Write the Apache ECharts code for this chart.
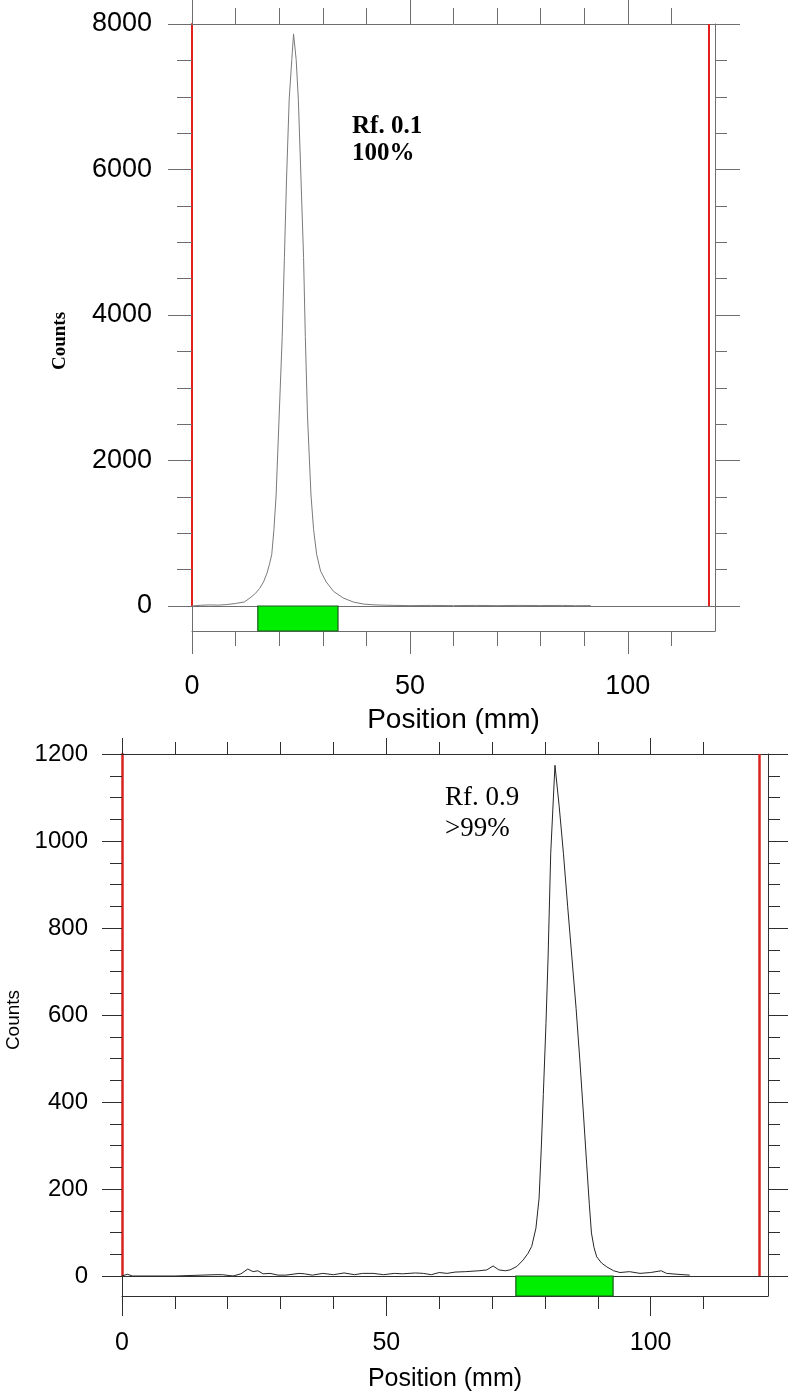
<!DOCTYPE html>
<html>
<head>
<meta charset="utf-8">
<script src="https://cdn.jsdelivr.net/npm/echarts@6/dist/echarts.min.js"></script>
<style>
  html, body { margin: 0; padding: 0; background: #fff; }
  #chart { width: 792px; height: 1399px; }
</style>
</head>
<body>
<div id="chart"></div>
<script>
// Top scan (Rf 0.1) - position in mm, counts
const topPos = [0, 2, 4, 6, 8, 10, 12, 13.3, 14.5, 15.5, 16.4, 17.2, 17.8, 18.3, 18.8, 19.3, 20.0, 20.7, 21.2, 21.7, 22.3, 22.9, 23.3,
  23.9, 24.4, 25.0, 25.6, 26.0, 26.5, 27.3, 27.9, 28.6, 29.5, 30.8, 32.5, 34.7, 37, 39.3, 42, 45, 50, 55, 60, 65, 70, 75, 80, 85, 88, 91.5];
const topCounts = [0, 10, 15, 12, 20, 35, 55, 110, 170, 240, 330, 450, 580, 709, 1050, 1526, 2612, 3702, 4790, 5883, 6966, 7511, 7864,
  7511, 6966, 5883, 4790, 3702, 2612, 1526, 1050, 709, 480, 330, 200, 110, 55, 27, 15, 10, 5, 8, 5, 8, 5, 8, 6, 8, 4, 5];
const topBand = [15.1, 33.5];
const topFront = 118.6;

// Bottom scan (Rf 0.9)
const botPos = [0, 1, 2, 10, 17.6, 19, 21, 22.5, 23.8, 24.8, 25.7, 26.7, 28, 29.5, 31, 33.5, 34.5, 36, 38, 40, 42, 44, 45.5, 47.5, 49.5,
  51.5, 53, 55.5, 57, 58.5, 60, 61.5, 63, 65, 67.5, 69, 70.2, 71.3, 72.5, 73.4, 74.7, 75.9, 76.8, 77.5, 78.3, 78.9, 79.3, 79.7, 80.2,
  80.6, 81.1, 81.9, 82.7, 83.5, 84.3, 85.1, 85.9, 86.6, 87.3, 87.9, 88.4, 88.8, 89.3, 89.8, 90.7, 91.7, 93, 94.2, 96, 98, 100, 102,
  103, 105, 107.4];
const botCounts = [0, 4, 0, 0, 3, 3, 0, 5, 16, 10, 12, 5, 6, 2, 2, 6, 5, 2, 6, 3, 7, 3, 6, 6, 3,
  6, 5, 7, 6, 3, 8, 6, 9, 10, 12, 14, 23, 14, 12, 14, 22, 37, 52, 68, 110, 179, 290, 417, 580,
  733, 972, 1174, 1080, 972, 850, 733, 615, 497, 370, 257, 165, 99, 65, 44, 30, 21, 12, 8, 10, 6, 8, 12,
  6, 4, 2];
const botBand = [74.5, 92.9];
const botFront = 120.5;

// Axis ticks / labels
const minorTicks = [0, 10, 20, 30, 40, 50, 60, 70, 80, 90, 100, 110];
const majorTicks = [0, 50, 100];

const zip = (xs, ys) => xs.map((x, i) => [x, ys[i]]);

const panels = [
  {
    data: zip(topPos, topCounts), band: topBand, front: topFront,
    left: 192, top: 24, width: 523, height: 582, strip: 25,
    xMax: 120, yMax: 8000, yStep: 2000,
    axisColor: '#6e6e6e', curveColor: '#7a7a7a', red: '#e3201b', redWidth: 2,
    topShort: 16, topLong: 24, botShort: 15, botLong: 23,
    yMajor: 24, yMinor: 15, rMajor: 25, rMinor: 12,
    yFont: 27, yMargin: 40, xFont: 27, xMargin: 42, nameFont: 28, nameGap: 75
  },
  {
    data: zip(botPos, botCounts), band: botBand, front: botFront,
    left: 122, top: 754, width: 646, height: 522, strip: 20,
    xMax: 122.2, yMax: 1200, yStep: 200,
    axisColor: '#2e2e2e', curveColor: '#262626', red: '#d8231f', redWidth: 2.5,
    topShort: 12, topLong: 16, botShort: 13, botLong: 20,
    yMajor: 20, yMinor: 12, rMajor: 20, rMinor: 12,
    yFont: 24, yMargin: 34, xFont: 25, xMargin: 35, nameFont: 25, nameGap: 71
  }
];

const grid = [], xAxis = [], yAxis = [], series = [];

panels.forEach((p, k) => {
  const line = { show: true, onZero: false, lineStyle: { color: p.axisColor, width: 1 } };
  const noLine = { show: false, onZero: false };
  const g0 = grid.length;
  grid.push({ left: p.left, top: p.top, width: p.width, height: p.height });
  grid.push({ left: p.left, top: p.top + p.height, width: p.width, height: p.strip });

  const x0 = xAxis.length;
  const xBase = { type: 'value', min: 0, max: p.xMax, splitLine: { show: false } };
  // main grid: top short ticks, top long ticks, bottom (zero) line
  xAxis.push(Object.assign({}, xBase, { gridIndex: g0, position: 'top', axisLine: line,
    axisTick: { show: true, customValues: minorTicks, length: p.topShort, lineStyle: { color: p.axisColor } },
    axisLabel: { show: false } }));
  xAxis.push(Object.assign({}, xBase, { gridIndex: g0, position: 'top', axisLine: noLine,
    axisTick: { show: true, customValues: majorTicks, length: p.topLong, lineStyle: { color: p.axisColor } },
    axisLabel: { show: false } }));
  xAxis.push(Object.assign({}, xBase, { gridIndex: g0, position: 'bottom', axisLine: line,
    axisTick: { show: false }, axisLabel: { show: false } }));
  // strip grid: bottom short ticks, bottom long ticks + labels + name
  xAxis.push(Object.assign({}, xBase, { gridIndex: g0 + 1, position: 'bottom', axisLine: line,
    axisTick: { show: true, customValues: minorTicks, length: p.botShort, lineStyle: { color: p.axisColor } },
    axisLabel: { show: false } }));
  xAxis.push(Object.assign({}, xBase, { gridIndex: g0 + 1, position: 'bottom', axisLine: noLine,
    axisTick: { show: true, customValues: majorTicks, length: p.botLong, lineStyle: { color: p.axisColor } },
    axisLabel: { show: true, customValues: majorTicks, margin: p.xMargin, color: '#000',
      fontFamily: 'Liberation Sans', fontSize: p.xFont },
    name: 'Position (mm)', nameLocation: 'middle', nameGap: p.nameGap,
    nameTextStyle: { color: '#000', fontFamily: 'Liberation Sans', fontSize: p.nameFont } }));

  const y0 = yAxis.length;
  yAxis.push({ type: 'value', gridIndex: g0, position: 'left', min: 0, max: p.yMax, interval: p.yStep,
    axisLine: { show: true, onZero: false, lineStyle: { color: p.red, width: p.redWidth } },
    axisTick: { show: true, length: p.yMajor, lineStyle: { color: p.axisColor } },
    minorTick: { show: true, splitNumber: 4, length: p.yMinor, lineStyle: { color: p.axisColor } },
    axisLabel: { margin: p.yMargin, color: '#000', fontFamily: 'Liberation Sans', fontSize: p.yFont,
      formatter: v => String(v) },
    splitLine: { show: false } });
  yAxis.push({ type: 'value', gridIndex: g0, position: 'right', min: 0, max: p.yMax, interval: p.yStep,
    axisLine: line,
    axisTick: { show: true, length: p.rMajor, lineStyle: { color: p.axisColor } },
    minorTick: { show: true, splitNumber: 4, length: p.rMinor, lineStyle: { color: p.axisColor } },
    axisLabel: { show: false }, splitLine: { show: false } });
  yAxis.push({ type: 'value', gridIndex: g0 + 1, position: 'left', min: 0, max: 1,
    axisLine: line, axisTick: { show: false }, axisLabel: { show: false }, splitLine: { show: false } });
  yAxis.push({ type: 'value', gridIndex: g0 + 1, position: 'right', min: 0, max: 1,
    axisLine: line, axisTick: { show: false }, axisLabel: { show: false }, splitLine: { show: false } });

  series.push({
    type: 'line', xAxisIndex: x0 + 2, yAxisIndex: y0, data: p.data,
    showSymbol: false, symbol: 'none', silent: true, animation: false,
    lineStyle: { color: p.curveColor, width: 1 },
    markLine: {
      silent: true, symbol: 'none', animation: false, label: { show: false },
      lineStyle: { color: p.red, width: p.redWidth, type: 'solid' },
      data: [{ xAxis: p.front }]
    }
  });
  series.push({
    type: 'line', xAxisIndex: x0 + 3, yAxisIndex: y0 + 2, data: [],
    showSymbol: false, silent: true, animation: false,
    markArea: {
      silent: true, animation: false, label: { show: false },
      itemStyle: { color: '#00ee00', borderColor: '#1f5a1f', borderWidth: 1.2 },
      data: [[{ xAxis: p.band[0] }, { xAxis: p.band[1] }]]
    }
  });
});

const chart = echarts.init(document.getElementById('chart'), null, { renderer: 'canvas' });
chart.setOption({
  animation: false,
  backgroundColor: '#fff',
  grid, xAxis, yAxis, series,
  graphic: [
    { type: 'text', x: 60, y: 341, rotation: Math.PI / 2,
      style: { text: 'Counts', font: 'bold 19px "Liberation Serif"', fill: '#000', align: 'center', verticalAlign: 'middle' } },
    { type: 'text', x: 352, y: 113,
      style: { text: 'Rf. 0.1\n100%', font: 'bold 25px "Liberation Serif"', lineHeight: 27, fill: '#000' } },
    { type: 'text', x: 14, y: 1020, rotation: Math.PI / 2,
      style: { text: 'Counts', font: '19px "Liberation Sans"', fill: '#000', align: 'center', verticalAlign: 'middle' } },
    { type: 'text', x: 445, y: 782,
      style: { text: 'Rf. 0.9\n>99%', font: '27px "Liberation Serif"', lineHeight: 31, fill: '#000' } }
  ]
});
</script>
</body>
</html>
